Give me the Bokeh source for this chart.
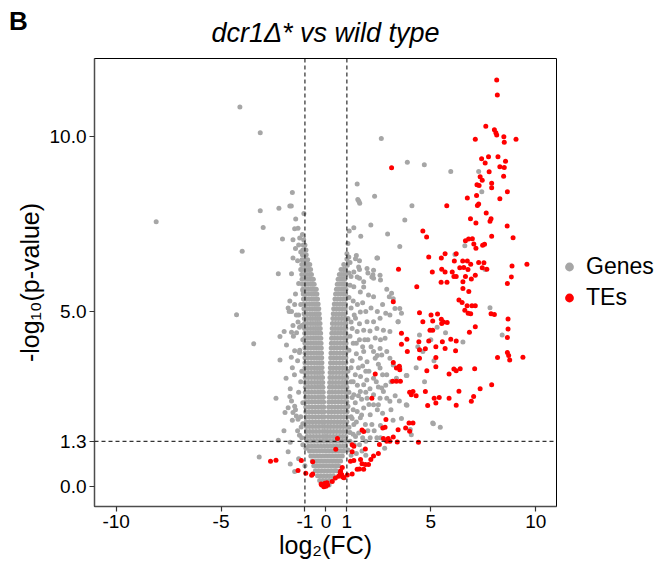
from bokeh.plotting import figure
from bokeh.models import Range1d, FixedTicker, Span, Legend, LegendItem, Div
from bokeh.layouts import column
from bokeh.embed import file_html
from bokeh.resources import INLINE

# ---- tick definitions ----
x_ticks = [-10, -5, -1, 0, 1, 5, 10]
x_tick_labels = ["-10", "-5", "-1", "0", "1", "5", "10"]
y_ticks = [0.0, 1.3, 5.0, 10.0]
y_tick_labels = ["0.0", "1.3", "5.0", "10.0"]
fc_cutoffs = [-1, 1]
p_cutoff = 1.3

# ---- dense core of genes (-log10 p, list of log2FC values in that row) ----
core_rows = [
    (0.05, [-0.15, 0.0, 0.15]),
    (0.18, [-0.3, -0.15, 0.0, 0.15, 0.3]),
    (0.32, [-0.4, -0.25, -0.1, 0.05, 0.2, 0.35]),
    (0.46, [-0.5, -0.35, -0.2, -0.05, 0.1, 0.25, 0.4, 0.5]),
    (0.60, [-0.58, -0.43, -0.28, -0.13, 0.02, 0.17, 0.32, 0.47, 0.6]),
    (0.74, [-0.65, -0.5, -0.35, -0.2, -0.05, 0.1, 0.25, 0.4, 0.55, 0.7]),
    (0.88, [-0.72, -0.57, -0.42, -0.27, -0.12, 0.03, 0.18, 0.33, 0.48, 0.63, 0.78]),
    (1.02, [-0.78, -0.63, -0.48, -0.33, -0.18, -0.03, 0.12, 0.27, 0.42, 0.57, 0.72, 0.85]),
    (1.16, [-0.83, -0.68, -0.53, -0.38, -0.23, -0.08, 0.07, 0.22, 0.37, 0.52, 0.67, 0.82, 0.92]),
    (1.30, [-0.87, -0.72, -0.57, -0.42, -0.27, -0.12, 0.03, 0.18, 0.33, 0.48, 0.63, 0.78, 0.93]),
    (1.44, [-0.9, -0.75, -0.6, -0.45, -0.3, -0.15, -0.04, 0.06, 0.2, 0.35, 0.5, 0.65, 0.8, 0.95]),
    (1.58, [-0.92, -0.77, -0.62, -0.47, -0.32, -0.17, -0.05, 0.08, 0.22, 0.37, 0.52, 0.67, 0.82, 0.97]),
    (1.72, [-0.93, -0.78, -0.63, -0.48, -0.33, -0.18, -0.06, 0.09, 0.23, 0.38, 0.53, 0.68, 0.83, 0.98]),
    (1.86, [-0.94, -0.79, -0.64, -0.49, -0.34, -0.19, -0.07, 0.1, 0.25, 0.4, 0.55, 0.7, 0.85, 1.0]),
    (2.00, [-0.95, -0.8, -0.65, -0.5, -0.35, -0.2, -0.08, 0.11, 0.26, 0.41, 0.56, 0.71, 0.86, 1.0]),
    (2.14, [-0.96, -0.81, -0.66, -0.51, -0.36, -0.21, -0.09, 0.12, 0.27, 0.42, 0.57, 0.72, 0.87, 1.01]),
    (2.28, [-0.96, -0.81, -0.66, -0.51, -0.36, -0.22, -0.1, 0.13, 0.28, 0.43, 0.58, 0.73, 0.88, 1.01]),
    (2.42, [-0.97, -0.82, -0.67, -0.52, -0.37, -0.23, -0.11, 0.14, 0.29, 0.44, 0.59, 0.74, 0.89, 1.0]),
    (2.56, [-0.97, -0.82, -0.67, -0.52, -0.37, -0.24, -0.12, 0.15, 0.3, 0.45, 0.6, 0.75, 0.9, 1.0]),
    (2.70, [-0.98, -0.83, -0.68, -0.53, -0.38, -0.25, -0.13, 0.16, 0.3, 0.45, 0.6, 0.75, 0.9, 1.0]),
    (2.84, [-0.98, -0.83, -0.68, -0.53, -0.39, -0.26, -0.14, 0.17, 0.31, 0.46, 0.61, 0.76, 0.9, 1.0]),
    (2.98, [-0.99, -0.84, -0.69, -0.54, -0.4, -0.27, -0.15, 0.18, 0.32, 0.47, 0.62, 0.77, 0.9, 0.99]),
    (3.12, [-0.99, -0.84, -0.69, -0.54, -0.41, -0.28, -0.16, 0.19, 0.33, 0.48, 0.63, 0.78, 0.92, 0.99]),
    (3.26, [-1.0, -0.85, -0.7, -0.55, -0.42, -0.29, -0.17, 0.2, 0.34, 0.49, 0.64, 0.79, 0.93]),
    (3.40, [-1.0, -0.85, -0.7, -0.55, -0.42, -0.3, -0.18, 0.21, 0.35, 0.5, 0.65, 0.8, 0.94]),
    (3.54, [-1.0, -0.85, -0.7, -0.56, -0.43, -0.31, -0.19, 0.22, 0.36, 0.5, 0.65, 0.8, 0.95]),
    (3.68, [-1.0, -0.86, -0.71, -0.57, -0.44, -0.32, -0.2, 0.23, 0.37, 0.51, 0.66, 0.81, 0.95]),
    (3.82, [-1.0, -0.86, -0.72, -0.58, -0.45, -0.33, -0.21, 0.24, 0.38, 0.52, 0.67, 0.82, 0.95]),
    (3.96, [-1.0, -0.86, -0.72, -0.58, -0.46, -0.34, -0.22, 0.25, 0.39, 0.53, 0.68, 0.83, 0.96]),
    (4.10, [-1.0, -0.86, -0.72, -0.59, -0.47, -0.35, -0.23, 0.26, 0.4, 0.54, 0.69, 0.84, 0.96]),
    (4.24, [-1.01, -0.87, -0.73, -0.6, -0.48, -0.36, -0.24, 0.27, 0.41, 0.55, 0.7, 0.85, 0.96]),
    (4.38, [-1.01, -0.87, -0.73, -0.6, -0.48, -0.37, -0.25, 0.28, 0.42, 0.56, 0.7, 0.85, 0.95]),
    (4.52, [-1.02, -0.88, -0.74, -0.61, -0.49, -0.38, -0.27, 0.3, 0.44, 0.58, 0.72, 0.86, 0.95]),
    (4.66, [-1.02, -0.88, -0.74, -0.62, -0.5, -0.39, -0.28, 0.31, 0.45, 0.59, 0.73, 0.87, 0.95]),
    (4.80, [-1.03, -0.89, -0.75, -0.63, -0.51, -0.4, -0.3, 0.33, 0.47, 0.61, 0.75, 0.88, 0.95]),
    (4.94, [-1.04, -0.9, -0.76, -0.64, -0.52, -0.42, -0.32, 0.35, 0.49, 0.63, 0.77, 0.9]),
    (5.08, [-1.05, -0.91, -0.78, -0.66, -0.54, -0.44, -0.34, 0.37, 0.51, 0.65, 0.79, 0.92]),
    (5.22, [-1.06, -0.92, -0.79, -0.67, -0.56, -0.46, -0.37, 0.4, 0.53, 0.67, 0.8, 0.93]),
    (5.36, [-1.07, -0.93, -0.8, -0.68, -0.58, -0.48, -0.4, 0.43, 0.56, 0.69, 0.82, 0.93]),
    (5.50, [-1.08, -0.94, -0.82, -0.7, -0.6, -0.5, -0.43, 0.46, 0.59, 0.72, 0.84, 0.94]),
    (5.64, [-1.1, -0.96, -0.84, -0.72, -0.62, -0.53, -0.46, 0.5, 0.62, 0.75, 0.86, 0.95]),
    (5.78, [-1.12, -0.98, -0.86, -0.74, -0.64, -0.56, 0.54, 0.66, 0.78, 0.88, 0.96]),
    (5.92, [-1.14, -1.0, -0.88, -0.76, -0.66, -0.6, 0.58, 0.7, 0.81, 0.9]),
    (6.06, [-1.15, -1.02, -0.9, -0.79, -0.69, 0.64, 0.75, 0.85, 0.95]),
    (6.20, [-1.15, -1.03, -0.92, -0.82, -0.73, 0.72, 0.84, 0.93]),
    (6.34, [-1.15, -1.04, -0.94, -0.85, -0.77, 0.85]),
    (6.48, [-1.14, -1.04, -0.95, -0.87]),
    (6.62, [-1.12, -1.03, -0.94]),
    (6.76, [-1.1, -1.02, -0.95]),
    (6.90, [-1.08, -1.0]),
    (7.05, [-1.06]),
    (7.20, [-1.12]),
]

# ---- scattered genes (log2FC, -log10 p) ----
gene_scatter = [
    (-4.10, 10.84), (-3.13, 10.10), (-1.60, 8.40), (-1.72, 8.01), (-1.65, 8.01), (-2.24, 7.95),
    (-3.13, 7.88), (-8.09, 7.56), (-1.05, 7.80), (-1.44, 7.64), (-2.99, 7.40), (-1.49, 7.36),
    (-1.33, 7.38), (-2.07, 7.07), (-1.57, 7.05), (-3.99, 6.72), (-1.57, 6.53), (-2.27, 6.08),
    (-1.64, 6.08), (-1.30, 6.90), (-1.20, 6.70), (-1.35, 6.45), (-1.45, 6.80), (-1.25, 7.10),
    (-4.26, 4.91), (-3.44, 4.08), (-2.19, 3.62), (-2.38, 2.53), (-1.99, 4.43), (-1.64, 4.41),
    (-1.88, 4.05), (-2.19, 4.29), (-1.49, 3.88), (-1.26, 3.83), (-1.80, 5.10), (-1.64, 5.00),
    (-1.49, 5.20), (-1.72, 5.30), (-1.41, 4.90), (-1.33, 4.70), (-1.57, 4.60), (-1.26, 4.55),
    (-1.72, 2.58), (-1.64, 2.45), (-1.80, 2.26), (-1.57, 2.12), (-1.41, 2.02), (-1.33, 1.93),
    (-1.95, 2.12), (-1.49, 2.30), (-2.27, 1.33), (-1.70, 1.27), (-1.26, 1.47), (-1.18, 1.71),
    (-3.18, 0.85), (-1.70, 0.65), (-1.49, 0.44), (-1.10, 1.20), (-0.95, 1.10),
    (-1.10, 5.60), (-1.20, 5.20), (-1.30, 4.90), (-1.15, 4.60), (-1.40, 4.40), (-1.10, 4.20),
    (-1.25, 3.90), (-1.35, 3.60), (-1.15, 3.30), (-1.50, 3.20), (-1.20, 3.00), (-1.30, 2.70),
    (-1.10, 2.40), (-1.45, 2.20), (-1.20, 2.00), (-1.10, 1.80), (-1.35, 1.60), (-1.15, 1.40),
    (-1.60, 1.90), (-1.70, 2.80), (-1.65, 3.70), (-1.55, 4.30), (-1.75, 5.00), (-1.45, 5.50),
    (-1.30, 5.80), (-1.20, 6.20), (-1.60, 3.40), (-1.90, 3.10), (-2.00, 1.60), (-1.80, 1.00),
    (-1.30, 0.80), (-1.00, 0.60),
    (2.64, 9.94), (3.88, 9.26), (4.69, 9.19), (5.95, 9.00), (7.28, 9.00), (7.43, 8.42),
    (1.49, 8.64), (1.52, 8.20), (1.57, 8.15), (1.61, 8.09), (2.32, 8.29), (4.10, 8.02),
    (3.76, 7.61), (2.14, 7.47), (1.33, 7.39), (1.11, 7.30), (1.66, 7.15), (2.94, 7.21),
    (1.05, 6.94), (3.52, 6.86), (6.62, 6.88), (2.46, 6.53), (6.15, 6.63), (7.59, 6.20),
    (1.00, 6.50), (1.15, 6.40), (1.60, 6.45), (1.45, 6.60), (1.00, 6.65), (1.60, 6.20),
    (2.00, 6.10), (2.24, 6.05), (2.60, 5.90), (2.27, 5.95), (1.60, 5.95), (1.20, 6.00),
    (1.10, 6.10), (1.80, 5.70),
    (1.09, 6.56), (1.41, 6.51), (1.02, 6.32), (1.56, 6.27), (1.96, 6.23), (2.27, 6.18),
    (2.43, 6.53), (2.58, 6.04), (2.19, 5.99), (1.49, 5.99), (1.33, 6.13), (1.80, 5.85),
    (1.33, 5.71), (1.64, 5.56), (2.03, 5.47), (2.27, 5.42), (3.13, 5.52), (3.21, 5.37),
    (3.52, 5.09), (3.60, 4.95), (3.44, 4.71), (3.05, 4.90), (2.58, 4.81), (2.27, 4.71),
    (1.96, 4.71), (1.64, 4.99), (1.41, 4.81), (1.25, 4.52), (1.49, 4.43), (1.80, 4.47),
    (2.43, 4.52), (2.74, 4.47), (3.05, 4.43), (2.82, 4.24), (2.58, 3.95), (2.27, 3.86),
    (1.80, 3.86), (1.64, 3.67), (1.96, 3.57), (2.35, 3.67), (2.66, 3.76), (2.90, 3.86),
    (3.05, 3.67), (3.21, 3.48), (3.52, 3.39), (3.83, 3.18), (2.58, 3.39), (2.27, 3.10),
    (1.80, 2.91), (1.64, 2.72), (1.33, 2.63), (1.96, 2.53), (2.27, 2.63), (2.66, 2.82),
    (2.58, 2.53), (2.27, 2.34), (1.80, 2.25), (1.49, 2.15), (2.11, 2.06), (1.64, 1.97),
    (1.33, 1.78), (1.88, 1.78), (2.19, 1.78), (1.56, 1.54), (1.41, 1.44), (1.72, 1.02),
    (3.83, 2.34), (4.46, 4.33), (5.09, 1.82), (4.62, 3.86), (2.11, 1.40), (2.43, 1.40),
    (2.74, 2.72), (2.90, 2.53), (3.05, 2.44), (2.50, 2.34), (3.36, 3.10),
    (7.82, 5.11), (8.40, 4.33), (6.53, 4.13), (5.12, 1.80), (4.38, 4.00), (4.70, 3.00),
    (3.86, 3.18), (3.86, 2.33), (4.02, 1.64), (4.07, 1.49), (3.44, 4.71), (2.90, 5.64),
    (3.02, 5.42), (3.29, 5.09), (5.00, 4.20), (5.30, 4.55), (5.70, 4.40), (5.15, 3.60),
    (4.30, 3.40), (5.45, 1.70),
    (1.10, 5.40), (1.20, 5.10), (1.05, 4.80), (1.15, 4.30), (1.10, 3.90), (1.25, 3.60),
    (1.05, 3.30), (1.20, 3.00), (1.10, 2.70), (1.05, 2.30), (1.20, 2.00), (1.10, 1.70),
    (1.30, 1.50), (1.15, 1.30), (1.40, 3.20), (1.50, 2.90), (1.45, 4.10), (1.35, 4.90),
    (1.60, 4.20), (1.55, 3.40), (1.70, 2.50), (1.40, 2.40), (1.25, 1.95), (1.35, 1.20),
    (1.05, 1.05), (1.20, 0.90), (1.45, 0.95), (1.90, 3.30), (2.10, 2.80), (2.40, 3.00),
    (2.00, 4.20), (1.75, 4.00), (2.50, 3.50), (2.90, 3.20), (3.10, 2.20), (2.70, 2.10),
    (1.60, 1.20), (1.90, 1.30), (2.30, 1.60), (2.60, 1.40), (2.80, 1.10), (1.90, 0.90),
    (1.15, 5.75), (1.30, 5.30), (1.50, 5.20), (1.75, 5.25), (1.90, 5.00), (2.15, 5.10),
    (2.45, 5.00), (2.70, 5.20), (2.85, 4.95), (1.20, 4.70), (1.60, 4.65), (2.10, 4.45),
    (2.35, 4.25), (2.60, 4.20), (1.30, 4.10), (1.85, 4.20), (2.15, 4.00), (2.45, 3.75),
    (1.45, 3.80), (1.20, 3.40), (1.75, 3.45), (2.05, 3.30), (2.70, 3.20), (3.10, 3.00),
    (1.30, 3.00), (1.65, 3.15), (1.95, 3.05), (2.50, 2.85), (2.85, 2.90), (1.25, 2.55),
    (1.55, 2.60), (1.90, 2.70), (2.05, 2.35), (2.45, 2.20), (1.30, 2.20), (1.70, 2.05),
    (1.45, 1.85), (2.00, 1.60), (2.60, 1.75), (1.15, 1.55), (1.75, 1.40), (3.30, 2.60),
    (3.50, 2.45), (3.20, 1.90), (3.60, 1.95),
]

# ---- transposable elements (log2FC, -log10 p) ----
te_points = [
    (8.14, 11.61), (8.17, 11.18), (7.62, 10.29), (8.03, 10.19), (8.10, 10.10), (8.14, 10.04),
    (8.48, 9.99), (8.50, 9.83), (9.06, 9.92), (7.12, 9.92), (3.13, 9.10),
    (7.42, 9.36), (7.75, 9.42), (7.59, 9.24), (8.20, 9.42), (8.56, 9.29), (8.29, 9.13),
    (8.50, 9.11), (7.78, 8.99), (8.47, 8.86), (7.35, 8.85), (7.20, 8.62), (7.30, 8.60),
    (7.45, 8.75), (7.90, 8.66), (7.90, 8.53), (8.65, 8.42), (7.18, 8.31), (7.28, 8.07),
    (7.22, 8.03), (6.74, 8.24), (8.29, 8.22), (5.76, 8.02), (7.64, 7.81), (6.89, 7.65),
    (7.15, 7.53), (7.87, 7.65), (7.82, 7.58), (8.64, 7.44), (4.62, 7.30), (4.80, 7.13),
    (6.65, 7.02), (6.80, 7.07), (6.98, 7.08), (7.05, 6.93), (7.15, 6.81), (7.47, 6.89),
    (7.56, 6.92), (7.90, 7.15), (8.92, 7.11),
    (4.90, 6.56), (5.50, 6.53), (5.68, 6.65), (6.12, 6.44), (6.21, 6.65), (6.52, 6.44),
    (6.74, 6.44), (6.38, 6.25), (6.57, 6.26), (6.77, 6.20), (6.90, 6.35), (7.28, 6.40),
    (7.53, 6.39), (7.45, 6.25), (7.67, 6.21), (8.87, 6.30), (9.58, 6.35), (3.46, 6.21),
    (5.07, 6.13), (5.52, 6.21), (5.68, 6.13), (6.02, 6.13), (6.10, 6.00), (6.21, 6.00),
    (6.65, 6.00), (6.93, 5.93), (7.12, 6.04), (8.84, 5.99), (8.65, 5.80), (5.49, 5.84),
    (5.77, 5.84), (6.53, 5.85), (4.33, 5.71),
    (3.21, 5.28), (4.46, 4.97), (5.01, 4.90), (5.32, 4.93), (5.50, 4.78), (5.60, 4.70),
    (5.78, 4.69), (5.52, 4.66), (4.62, 4.71), (5.09, 4.73), (4.96, 4.47), (5.09, 4.47),
    (3.60, 4.38), (3.86, 4.21), (4.90, 4.16), (4.43, 4.14), (5.55, 4.14), (5.95, 4.21),
    (6.21, 4.16), (3.60, 4.07), (4.46, 3.91), (4.74, 3.94), (5.24, 4.00), (5.68, 3.95),
    (3.88, 3.86), (5.24, 3.69), (4.46, 3.67), (5.24, 3.43), (3.21, 3.55), (3.36, 3.39),
    (3.52, 3.34), (3.50, 3.44), (3.18, 3.01), (3.36, 3.01), (3.55, 3.01), (4.81, 3.31),
    (5.87, 3.22), (6.10, 3.36), (2.35, 3.22), (3.99, 2.70), (4.15, 2.72), (4.30, 2.60),
    (4.07, 2.63), (4.74, 2.72), (5.16, 2.53), (5.40, 2.55), (5.24, 2.39), (5.87, 2.53),
    (4.85, 2.32), (2.19, 2.53), (2.86, 1.92), (2.71, 1.68), (2.82, 1.70), (3.96, 1.82),
    (4.15, 1.82), (3.80, 1.68), (3.99, 1.59), (3.44, 1.63), (3.21, 1.42), (2.97, 1.38),
    (2.90, 1.30), (3.05, 1.30), (3.40, 1.28), (4.41, 1.27),
    (2.74, 1.38), (2.55, 1.21), (2.50, 0.95), (2.27, 0.88), (2.14, 0.78), (2.03, 0.64),
    (1.88, 0.64), (1.65, 0.78), (1.72, 0.66), (1.33, 0.75), (1.17, 0.73), (1.49, 0.50),
    (1.80, 0.50), (1.33, 1.16), (1.72, 1.62), (1.80, 1.58), (0.70, 0.45), (0.86, 0.26),
    (1.02, 0.34), (0.78, 0.55),
    (8.68, 4.79), (8.68, 4.50), (8.65, 4.26), (8.65, 3.83), (8.71, 3.75), (8.76, 3.62),
    (8.18, 3.69), (9.39, 3.70), (7.90, 2.91), (7.35, 2.80), (7.04, 2.58), (6.93, 2.44),
    (6.34, 2.73), (6.21, 2.33), (7.09, 3.37), (6.21, 3.31), (6.40, 3.37), (7.12, 4.57),
    (6.84, 4.41), (7.87, 4.94), (8.03, 4.92), (6.49, 5.26), (6.73, 5.17), (6.96, 5.17),
    (7.12, 5.17), (6.62, 5.04), (6.78, 4.95), (6.90, 4.94), (6.34, 5.33), (6.81, 5.57),
    (6.53, 5.66), (6.18, 3.88),
    (-0.20, 0.05), (-0.10, 0.00), (0.00, 0.02), (0.08, 0.05), (-0.05, 0.10), (0.05, 0.12),
    (0.30, 0.15), (0.45, 0.25), (0.60, 0.30), (0.75, 0.35), (0.80, 0.28), (0.55, 1.38),
    (0.47, 1.07), (0.68, 0.40), (1.25, 1.00), (1.25, 1.20), (1.60, 0.51), (1.25, 0.37),
    (1.88, 1.08),
    (-2.64, 0.73), (-2.38, 0.76), (-1.17, 0.75), (-1.33, 0.47), (-0.96, 0.39), (-0.63, 0.72),
    (-0.68, 0.33), (-0.63, 0.37), (-0.23, 0.08),
]

gene_x = [x for yy, xs in core_rows for x in xs] + [pt[0] for pt in gene_scatter]
gene_y = [yy for yy, xs in core_rows for x in xs] + [pt[1] for pt in gene_scatter]
te_x = [pt[0] for pt in te_points]
te_y = [pt[1] for pt in te_points]

GRAY = "#a6a6a6"
RED = "#ff0000"
FONT = "Liberation Sans"

FRAME_W, FRAME_H = 462, 448

p = figure(width=670, height=566, frame_width=FRAME_W, frame_height=FRAME_H,
           output_backend="svg", toolbar_location=None,
           x_range=Range1d(-11.03, 10.99), y_range=Range1d(-0.56, 12.22),
           min_border_left=94, min_border_right=114, min_border_top=58, min_border_bottom=60)

p.scatter(gene_x, gene_y, size=5, color=GRAY, line_color=None)
p.scatter(te_x, te_y, size=5, color=RED, line_color=None)

for c in fc_cutoffs:
    p.add_layout(Span(location=c, dimension="height", line_color="black",
                      line_dash="4 3", line_width=1))
p.add_layout(Span(location=p_cutoff, dimension="width", line_color="black",
                  line_dash="4 3", line_width=1))

# legend keys: their one sample point lies outside the visible ranges
lg_gene = p.scatter([-100], [-100], size=9, color=GRAY, line_color=None)
lg_te = p.scatter([-100], [-100], size=9, color=RED, line_color=None)
legend = Legend(items=[LegendItem(label="Genes", renderers=[lg_gene], index=0),
                       LegendItem(label="TEs", renderers=[lg_te], index=0)],
                location="left", orientation="vertical",
                label_text_font=FONT, label_text_font_size="23px", label_text_color="black",
                glyph_width=22, glyph_height=25, label_height=25, label_standoff=6,
                spacing=4, padding=4, margin=2, border_line_color=None,
                background_fill_alpha=0)
p.add_layout(legend, "right")

p.title.text = "dcr1Δ* vs wild type"
p.title.align = "center"
p.title.text_font = FONT
p.title.text_font_style = "italic"
p.title.text_font_size = "27px"
p.title.text_color = "black"
p.title.standoff = 22

p.xaxis.ticker = FixedTicker(ticks=x_ticks)
p.xaxis.major_label_overrides = {t: s for t, s in zip(x_ticks, x_tick_labels)}
p.yaxis.ticker = FixedTicker(ticks=y_ticks)
p.yaxis.major_label_overrides = {t: s for t, s in zip(y_ticks, y_tick_labels)}
p.xaxis.axis_label = "log₂(FC)"
p.yaxis.axis_label = "-log₁₀(p-value)"

for ax in (p.xaxis[0], p.yaxis[0]):
    ax.axis_label_text_font = FONT
    ax.axis_label_text_font_style = "normal"
    ax.axis_label_text_font_size = "25px"
    ax.axis_label_text_color = "black"
    ax.major_label_text_font = FONT
    ax.major_label_text_font_size = "19px"
    ax.major_label_text_color = "black"
    ax.axis_line_color = "#4d4d4d"
    ax.axis_line_width = 1.5
    ax.major_tick_line_color = "#333333"
    ax.major_tick_line_width = 1.2
    ax.major_tick_out = 5
    ax.major_tick_in = 0
    ax.minor_tick_line_color = None
    ax.major_label_standoff = 3
p.xaxis.axis_label_standoff = 0
p.yaxis.axis_label_standoff = 3

p.grid.visible = False
p.outline_line_color = "black"
p.outline_line_width = 1
p.border_fill_alpha = 0

# panel letter, overlaid on the top-left corner of the figure
panel_tag = Div(text="B", width=40, height=30, margin=(-560, 0, 0, 9),
                styles={"font-family": FONT, "font-size": "26px", "font-weight": "bold",
                        "color": "black", "position": "relative", "z-index": "10",
                        "line-height": "30px"})

layout = column(p, panel_tag, spacing=0)
open("out.html", "w").write(file_html(layout, INLINE))
